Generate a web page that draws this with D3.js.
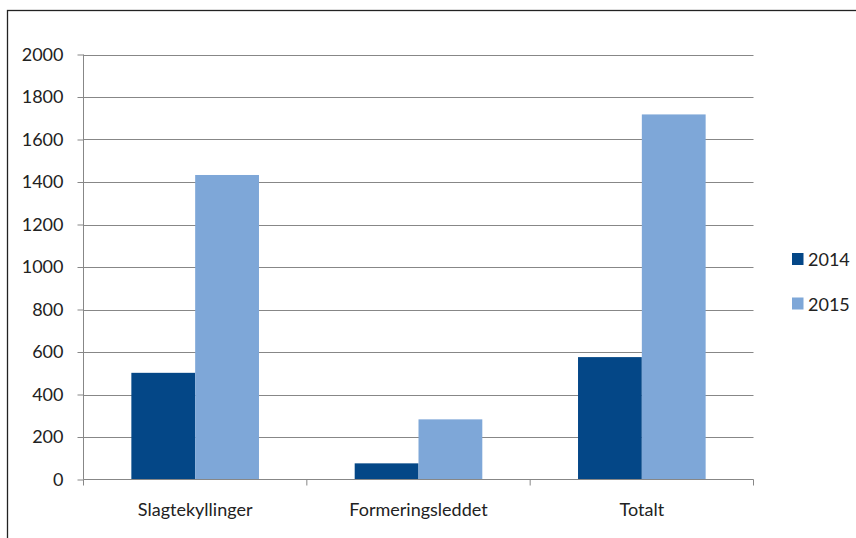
<!DOCTYPE html>
<html><head><meta charset="utf-8">
<script src="https://cdn.jsdelivr.net/npm/d3@7"></script>
<style>html,body{margin:0;padding:0;background:#fff;} svg{display:block;}</style>
</head><body>
<svg id="chart" width="856" height="538"></svg>
<script>
const categories = ["Slagtekyllinger", "Formeringsleddet", "Totalt"];
const seriesNames = ["2014", "2015"];
const values2014 = [502, 76, 576];
const values2015 = [1433, 283, 1718];
const yTicks = [0, 200, 400, 600, 800, 1000, 1200, 1400, 1600, 1800, 2000];
const colors = ["#044787", "#7ea7d8"];

(function () {
const svg = d3.select("#chart");
const font = "Lato, 'Open Sans', sans-serif";
const fs = 18;
const pLeft = 83.5, pRight = 753.5, pTop = 54.5, pBottom = 479.5;

// outer frame
svg.append("rect").attr("x", 7.5).attr("y", 10.5).attr("width", 900).attr("height", 600)
  .attr("fill", "none").attr("stroke", "#222").attr("stroke-width", 1.3);

const x0 = d3.scaleBand().domain(categories).range([pLeft, pRight]).paddingInner(0).paddingOuter(0);
const x1 = d3.scaleBand().domain(seriesNames).range([0, x0.bandwidth()]).paddingInner(0).paddingOuter(0.75);
const y = d3.scaleLinear().domain([0, 2000]).range([pBottom, pTop]);

// gridlines
svg.append("g").selectAll("line").data(yTicks.filter(d => d > 0)).join("line")
  .attr("x1", pLeft).attr("x2", pRight)
  .attr("y1", d => Math.round(y(d)) + 0.5).attr("y2", d => Math.round(y(d)) + 0.5)
  .attr("stroke", "#878787").attr("stroke-width", 1);

// bars
const data = categories.map((c, i) => ({cat: c, vals: [values2014[i], values2015[i]]}));
const g = svg.append("g");
data.forEach(d => {
  seriesNames.forEach((s, j) => {
    g.append("rect")
      .attr("x", x0(d.cat) + x1(s))
      .attr("y", y(d.vals[j]))
      .attr("width", x1.bandwidth())
      .attr("height", y(0) - y(d.vals[j]))
      .attr("fill", colors[j]);
  });
});

// y axis
const yAxis = d3.axisLeft(y).tickValues(yTicks).tickSize(6).tickPadding(14).tickFormat(d3.format("d"));
const ya = svg.append("g").attr("transform", `translate(${pLeft},0)`).call(yAxis);
ya.select(".domain").attr("stroke", "#878787").attr("d", `M0,${pTop}V${pBottom}`);
ya.selectAll(".tick line").attr("stroke", "#878787");
ya.selectAll(".tick text").attr("font-family", font).attr("font-size", fs).attr("fill", "#222");

// x axis
const xa = svg.append("g").attr("transform", `translate(0,${pBottom})`);
xa.append("line").attr("x1", pLeft).attr("x2", pRight).attr("stroke", "#878787");
const edges = categories.map(c => x0(c)).concat([pRight]);
xa.selectAll("line.t").data(edges).join("line").attr("class", "t")
  .attr("x1", d => d).attr("x2", d => d)
  .attr("y1", 0).attr("y2", 6).attr("stroke", "#878787");
xa.selectAll("text").data(categories).join("text")
  .attr("x", d => x0(d) + x0.bandwidth() / 2).attr("y", 36)
  .attr("text-anchor", "middle").attr("font-family", font).attr("font-size", fs).attr("fill", "#222")
  .text(d => d);

// legend
const lg = svg.append("g");
seriesNames.forEach((s, j) => {
  const ly = 253 + j * 44.5;
  lg.append("rect").attr("x", 792).attr("y", ly).attr("width", 11.5).attr("height", 12).attr("fill", colors[j]);
  lg.append("text").attr("x", 808).attr("y", ly + 13).attr("font-family", font).attr("font-size", fs)
    .attr("fill", "#222").text(s);
});
})();
</script>
</body></html>
